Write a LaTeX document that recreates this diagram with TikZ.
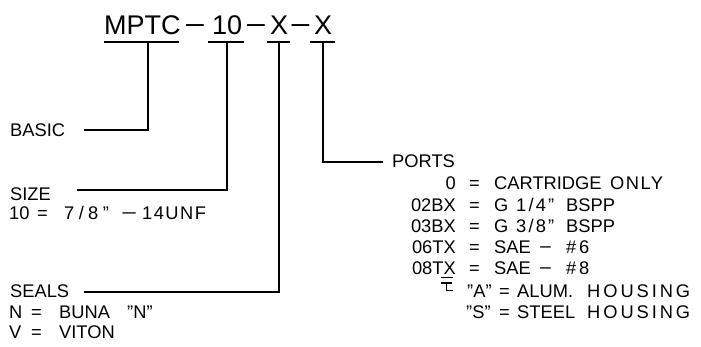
\documentclass[tikz,border=0pt]{standalone}
\usepackage{fontspec}
\setmainfont{Liberation Sans}
\newcommand\spc[2]{{\addfontfeature{LetterSpace=#1}#2}}
\begin{document}
\begin{tikzpicture}[x=1pt,y=-1pt,
  lbl/.style={inner sep=0pt, anchor=base west, font=\fontsize{18.3}{20}\selectfont},
  code/.style={lbl, anchor=base east},
  ttl/.style={inner sep=0pt, anchor=base west, font=\fontsize{27}{30}\selectfont},
  dsh/.style={ttl, anchor=base},
  ln/.style={line width=1.5pt, line cap=butt}]
\useasboundingbox (0,0) rectangle (701,347);

% ---------- title ----------
\node[ttl] (t1) at (104,35) {MPTC};
\node[dsh] (d1) at (195,35) {\scalebox{1.35}[1]{−}};
\node[ttl] (t2) at (212,35) {10};
\node[dsh] (d2) at (256,35) {\scalebox{1.35}[1]{−}};
\node[ttl] (t3) at (270,35) {X};
\node[dsh] (d3) at (300.5,35) {\scalebox{1.35}[1]{−}};
\node[ttl] (t4) at (314,35) {X};

\draw[ln] (104,42) -- (179,42);
\draw[ln] (208,42) -- (244,42);
\draw[ln] (267,42) -- (290,42);
\draw[ln] (310,42) -- (335,42);

\coordinate (u1) at (148,42);
\coordinate (u2) at (227,42);
\coordinate (u3) at (279,42);
\coordinate (u4) at (323,42);

% ---------- left labels ----------
\node[lbl] (basic) at (10,136.5) {BASIC};
\node[lbl] (size) at (10,200.5) {SIZE};
\node[lbl] (szc) at (9,220) {10};
\node[lbl] (sze) at (37,220) {=};
\node[lbl] (szf) at (64,220) {\spc{24}{7/8”}};
\node[lbl] (szd) at (121,220) {\scalebox{1.5}[1]{−}};
\node[lbl] (szt) at (142,220) {\spc{8}{14UNF}};
\node[lbl] (seals) at (10,298) {SEALS};
\node[lbl] (nc) at (9,318) {N};
\node[lbl] (ne) at (31,318) {=};
\node[lbl] (nv) at (59,318) {BUNA};
\node[lbl] (nq) at (127,318) {”N”};
\node[lbl] (vc) at (9,338) {V};
\node[lbl] (ve) at (31,338) {=};
\node[lbl] (vv) at (59,338) {VITON};

\coordinate (b0) at (84,130);
\coordinate (s0) at (77,190);
\coordinate (e0) at (84,292);
\coordinate (p0) at (383,162);
\draw[ln] (b0) -| (u1);
\draw[ln] (s0) -| (u2);
\draw[ln] (e0) -| (u3);
\draw[ln] (u4) |- (p0);

% ---------- ports ----------
\node[lbl] (ports) at (392,168) {PORTS};

\node[code] (c0) at (456,190) {0};
\node[lbl] (q0) at (469,190) {=};
\node[lbl] (v0a) at (494,190) {CARTRIDGE};
\node[lbl] (v0b) at (610,190) {\spc{8}{ONLY}};

\node[code] (c1) at (456,211.5) {02BX};
\node[lbl] (q1) at (469,211.5) {=};
\node[lbl] (v1a) at (494,211.5) {G};
\node[lbl] (v1b) at (516,211.5) {\spc{12}{1/4”}};
\node[lbl] (v1c) at (566,211.5) {BSPP};

\node[code] (c2) at (456,233) {03BX};
\node[lbl] (q2) at (469,233) {=};
\node[lbl] (v2a) at (494,233) {G};
\node[lbl] (v2b) at (516,233) {\spc{12}{3/8”}};
\node[lbl] (v2c) at (566,233) {BSPP};

\node[code] (c3) at (456,254) {06TX};
\node[lbl] (q3) at (469,254) {=};
\node[lbl] (v3a) at (494,254) {SAE};
\node[lbl] (v3b) at (539,254) {\scalebox{1.2}[1]{−}};
\node[lbl] (v3c) at (566,254) {\spc{15}{\#6}};

\node[code] (c4) at (456,275) {08TX};
\node[lbl] (q4) at (469,275) {=};
\node[lbl] (v4a) at (494,275) {SAE};
\node[lbl] (v4b) at (539,275) {\scalebox{1.2}[1]{−}};
\node[lbl] (v4c) at (566,275) {\spc{15}{\#8}};

\node[lbl] (c5) at (467,298) {”A”};
\node[lbl] (q5) at (499,298) {=};
\node[lbl] (v5a) at (517,298) {ALUM.};
\node[lbl] (v5b) at (587,298) {\spc{16}{HOUSING}};

\node[lbl] (c6) at (466,318) {”S”};
\node[lbl] (q6) at (499,318) {=};
\node[lbl] (v6a) at (517,318) {STEEL};
\node[lbl] (v6b) at (587,318) {\spc{16}{HOUSING}};

% small leader from X of 08TX to "A"
\draw[line width=1.2pt] (441,277.5) -- (453,277.5);
\draw[line width=1.2pt] (441,283) -- (452,283);
\draw[line width=1.2pt] (446.5,283) -- (446.5,290.5) -- (453,290.5);
\end{tikzpicture}
\end{document}
